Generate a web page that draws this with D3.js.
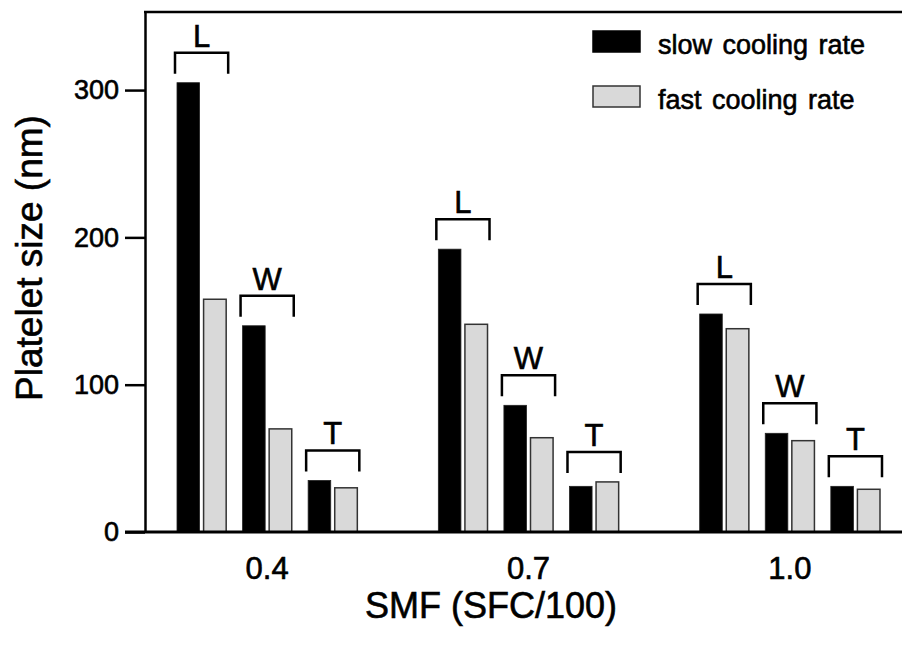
<!DOCTYPE html>
<html>
<head>
<meta charset="utf-8">
<script src="https://cdn.jsdelivr.net/npm/d3@7"></script>
<style>
  body { margin: 0; background: #fff; }
  text { font-family: "Liberation Sans", Arial, sans-serif; fill: #000; stroke: #000; stroke-width: 0.6px; }
</style>
</head>
<body>
<div id="vis"></div>
<script>
// data
const smf = ['0.4', '0.7', '1.0'];
const dims = ['L', 'W', 'T'];
const rates = ['slow', 'fast'];
const rateLabels = ['slow cooling rate', 'fast cooling rate'];
// platelet size (nm), one array per SMF, in L, W, T order
const slow = [[305, 140, 35], [192, 86, 31], [148, 67, 31]];
const fast = [[158, 70, 30], [141, 64, 34], [138, 62, 29]];
const yTicks = [0, 100, 200, 300];

const W = 902, H = 648;
let margin = { top: 12, left: 145, right: 0, bottom: 116 };

let svg = d3.select('#vis')
  .append('svg')
  .attr('width', W)
  .attr('height', H);

// y scale
const y = d3.scaleLinear()
  .domain([0, 353])
  .range([H - margin.bottom, margin.top]);

// group / sub-group / series scales
const x0 = d3.scaleBand().domain(smf).range([177, 880]).paddingInner(0.31).paddingOuter(0);
const x1 = d3.scaleBand().domain(dims).range([0, x0.bandwidth()]).paddingInner(0.25);
const x2 = d3.scaleBand().domain(rates).range([0, x1.bandwidth()]).paddingInner(0.15);

const color = d3.scaleOrdinal().domain(rates).range(['#000', '#d9d9d9']);
const stroke = d3.scaleOrdinal().domain(rates).range(['#222', '#333']);

// flatten to rows
const rows = [];
smf.forEach((s, i) => dims.forEach((d, j) => {
  rows.push({ smf: s, dim: d, slow: slow[i][j], fast: fast[i][j] });
}));

const groups = svg.append('g')
  .selectAll('g')
  .data(rows)
  .join('g')
  .attr('transform', d => `translate(${x0(d.smf) + x1(d.dim)},0)`);

groups.selectAll('rect')
  .data(d => rates.map(key => ({ key, value: d[key] })))
  .join('rect')
  .attr('x', d => x2(d.key))
  .attr('y', d => y(d.value))
  .attr('width', x2.bandwidth())
  .attr('height', d => y(0) - y(d.value))
  .attr('fill', d => color(d.key))
  .attr('stroke', d => stroke(d.key))
  .attr('stroke-width', d => d.key === 'fast' ? 1.5 : 0.8);

// brackets over each pair
const bw = x1.bandwidth();
groups.append('path')
  .attr('d', d => {
    const top = y(Math.max(d.slow, d.fast)) - 30;
    return `M-2,${top + 21}V${top}H${bw + 2}V${top + 21}`;
  })
  .attr('fill', 'none')
  .attr('stroke', '#000')
  .attr('stroke-width', 2.5);

groups.append('text')
  .attr('x', bw / 2)
  .attr('y', d => y(Math.max(d.slow, d.fast)) - 36)
  .attr('text-anchor', 'middle')
  .attr('font-size', 31)
  .text(d => d.dim);

// y axis
const yAxis = svg.append('g')
  .attr('transform', `translate(${margin.left},0)`)
  .call(d3.axisLeft(y).tickValues(yTicks).tickSize(20).tickSizeOuter(0).tickPadding(6));
yAxis.select('.domain').attr('stroke-width', 2.5);
yAxis.selectAll('.tick line').attr('stroke-width', 2.5);
yAxis.selectAll('.tick text').attr('font-size', 27).attr('font-family', '"Liberation Sans", Arial, sans-serif');

// x axis labels
const xAxis = svg.append('g')
  .attr('transform', `translate(0,${y(0)})`)
  .call(d3.axisBottom(x0).tickSize(0).tickPadding(25));
xAxis.select('.domain').remove();
xAxis.selectAll('.tick text').attr('font-size', 31).attr('font-family', '"Liberation Sans", Arial, sans-serif');

// frame lines: bottom and top
svg.append('line')
  .attr('x1', margin.left - 20).attr('x2', W)
  .attr('y1', y(0)).attr('y2', y(0))
  .attr('stroke', '#000').attr('stroke-width', 3);
svg.append('line')
  .attr('x1', margin.left - 1).attr('x2', W)
  .attr('y1', margin.top).attr('y2', margin.top)
  .attr('stroke', '#000').attr('stroke-width', 2.5);

// axis titles
svg.append('text')
  .attr('x', 491)
  .attr('y', 618)
  .attr('text-anchor', 'middle')
  .attr('font-size', 36)
  .text('SMF (SFC/100)');

svg.append('text')
  .attr('transform', 'translate(42,258) rotate(-90)')
  .attr('text-anchor', 'middle')
  .attr('font-size', 37)
  .text('Platelet size (nm)');

// legend
const legend = svg.append('g')
  .selectAll('g')
  .data(rates)
  .join('g')
  .attr('transform', (d, i) => `translate(593,${31 + i * 55})`);

legend.append('rect')
  .attr('width', 47)
  .attr('height', 21)
  .attr('fill', color)
  .attr('stroke', d => d === 'fast' ? '#333' : '#000')
  .attr('stroke-width', 1.5);

legend.append('text')
  .attr('x', 65)
  .attr('y', 23)
  .attr('font-size', 27)
  .attr('word-spacing', 3)
  .text((d, i) => rateLabels[i]);
</script>
</body>
</html>
